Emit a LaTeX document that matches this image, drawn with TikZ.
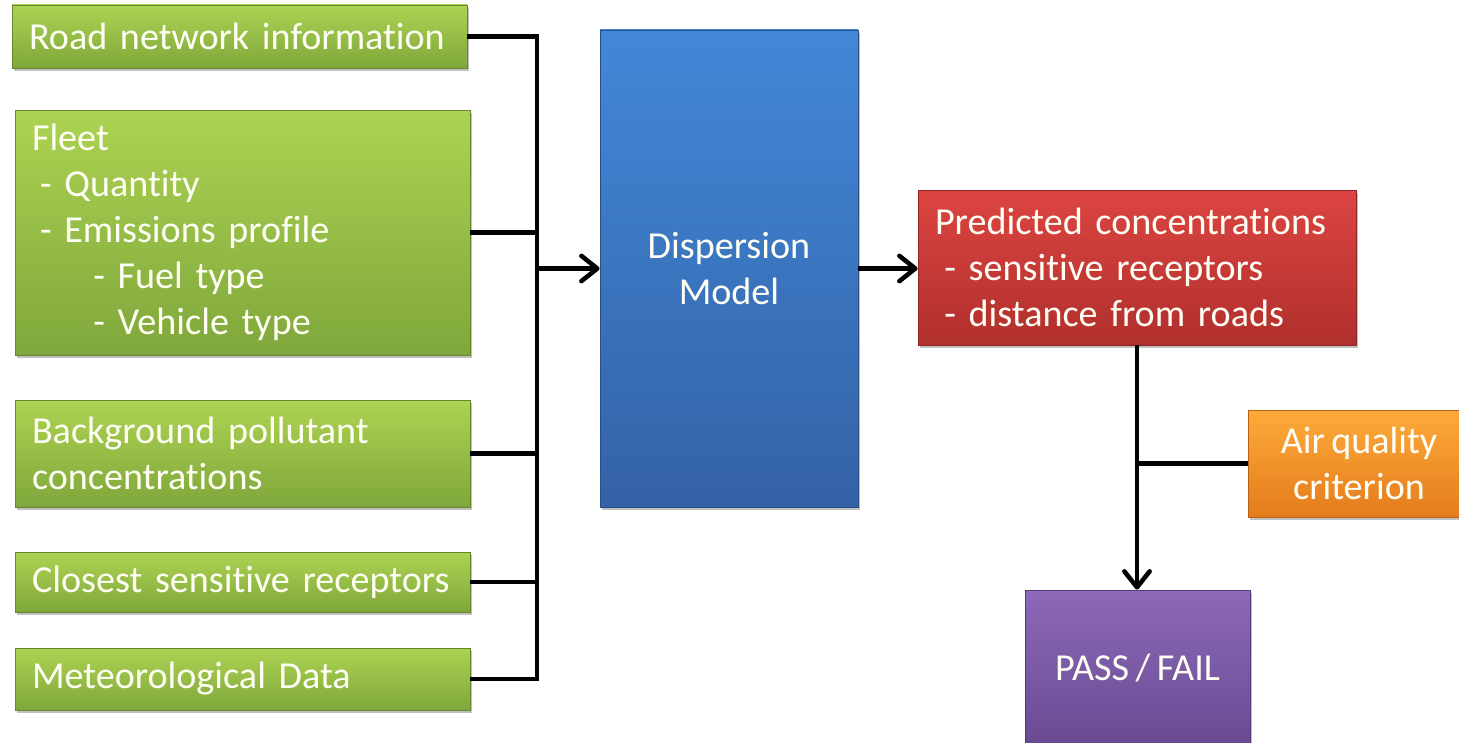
\documentclass[tikz,border=0pt]{standalone}
\usepackage{fontspec}
\setmainfont{Carlito}[Ligatures=NoCommon, WordSpace=0.75]
\usetikzlibrary{arrows.meta,shadows,calc}
\definecolor{gtop}{HTML}{ADD352}
\definecolor{gbot}{HTML}{7FA73B}
\definecolor{btop}{HTML}{4288D8}
\definecolor{bbot}{HTML}{3462A6}
\definecolor{rtop}{HTML}{DC4541}
\definecolor{rbot}{HTML}{B02F2D}
\definecolor{otop}{HTML}{FDAA3A}
\definecolor{obot}{HTML}{E47C1C}
\definecolor{ptop}{HTML}{8C69B9}
\definecolor{pbot}{HTML}{694A92}
\tikzset{
  box/.style={draw=#1!80!black, line width=0.6pt, text=white!96!yellow, inner ysep=0pt,
    font=\fontsize{28.6}{34.5}\selectfont,
    drop shadow={shadow xshift=1.5pt, shadow yshift=-2pt, opacity=0.35, fill=black!70}},
  greenbox/.style={box=gbot, top color=gtop, bottom color=gbot, minimum width=341.25pt,
    text width=315.75pt, inner xsep=12.75pt, align=left},
  conn/.style={line width=3.4pt, black},
  arr/.style={conn, -{Straight Barb[length=12pt,width=19pt,round]}},
}
\begin{document}
\begin{tikzpicture}[x=0.75pt,y=-0.75pt]
\useasboundingbox (0,0) rectangle (1459,742);
\clip (0,0) rectangle (1459,742);
\coordinate (bx) at (537,0);
\node[greenbox, minimum height=47.25pt] (road) at (239.5,36.5) {\mbox{Road network information}};
\node[greenbox, minimum height=183.75pt] (fleet) at (242.5,232.5) {\mbox{Fleet}\\
\mbox{\hspace*{6pt}- Quantity}\\
\mbox{\hspace*{6pt}- Emissions profile}\\
\mbox{\hspace*{46pt}- Fuel type}\\
\mbox{\hspace*{46pt}- Vehicle type}};
\node[greenbox, minimum height=80.25pt] (bg) at (242.5,453.5) {\mbox{Background pollutant}\\\mbox{concentrations}};
\node[greenbox, minimum height=45pt] (close) at (242.5,582) {\mbox{Closest sensitive receptors}};
\node[greenbox, minimum height=46.5pt] (met) at (242.5,679) {\mbox{Meteorological Data}};
\node[box=bbot, top color=btop, bottom color=bbot, minimum width=193.5pt, minimum height=357.75pt, align=center] (disp) at (729,268.5) {Dispersion\\Model};
\node[box=rbot, top color=rtop, bottom color=rbot, minimum width=328.5pt, minimum height=116.25pt,
  text width=303pt, inner xsep=12.75pt, align=left] (pred) at (1137,267.5) {\mbox{Predicted concentrations}\\
\mbox{\hspace*{7pt}- sensitive receptors}\\
\mbox{\hspace*{7pt}- distance from roads}};
\node[box=obot, top color=otop, bottom color=obot, minimum width=166.5pt, minimum height=80.25pt, align=center] (air) at (1359,463.5) {Air quality\\criterion};
\node[box=pbot, top color=ptop, bottom color=pbot, minimum width=168.75pt, minimum height=117pt, align=center] (pass) at (1137.5,668) {PASS / FAIL};
% input bus
\draw[conn] (road.east) -| (met.east -| bx) -- (met.east);
\draw[conn] (fleet.east) -- (fleet.east -| bx);
\draw[conn] (bg.east) -- (bg.east -| bx);
\draw[conn] (close.east) -- (close.east -| bx);
\draw[arr] (disp.west -| bx) -- (disp.west);
\draw[arr] (disp.east) -- (disp.east -| pred.west);
\draw[arr] (pred.south) -- (pred.south |- pass.north);
\draw[conn] (air.west) -- (air.west -| pred.south);
\end{tikzpicture}
\end{document}
